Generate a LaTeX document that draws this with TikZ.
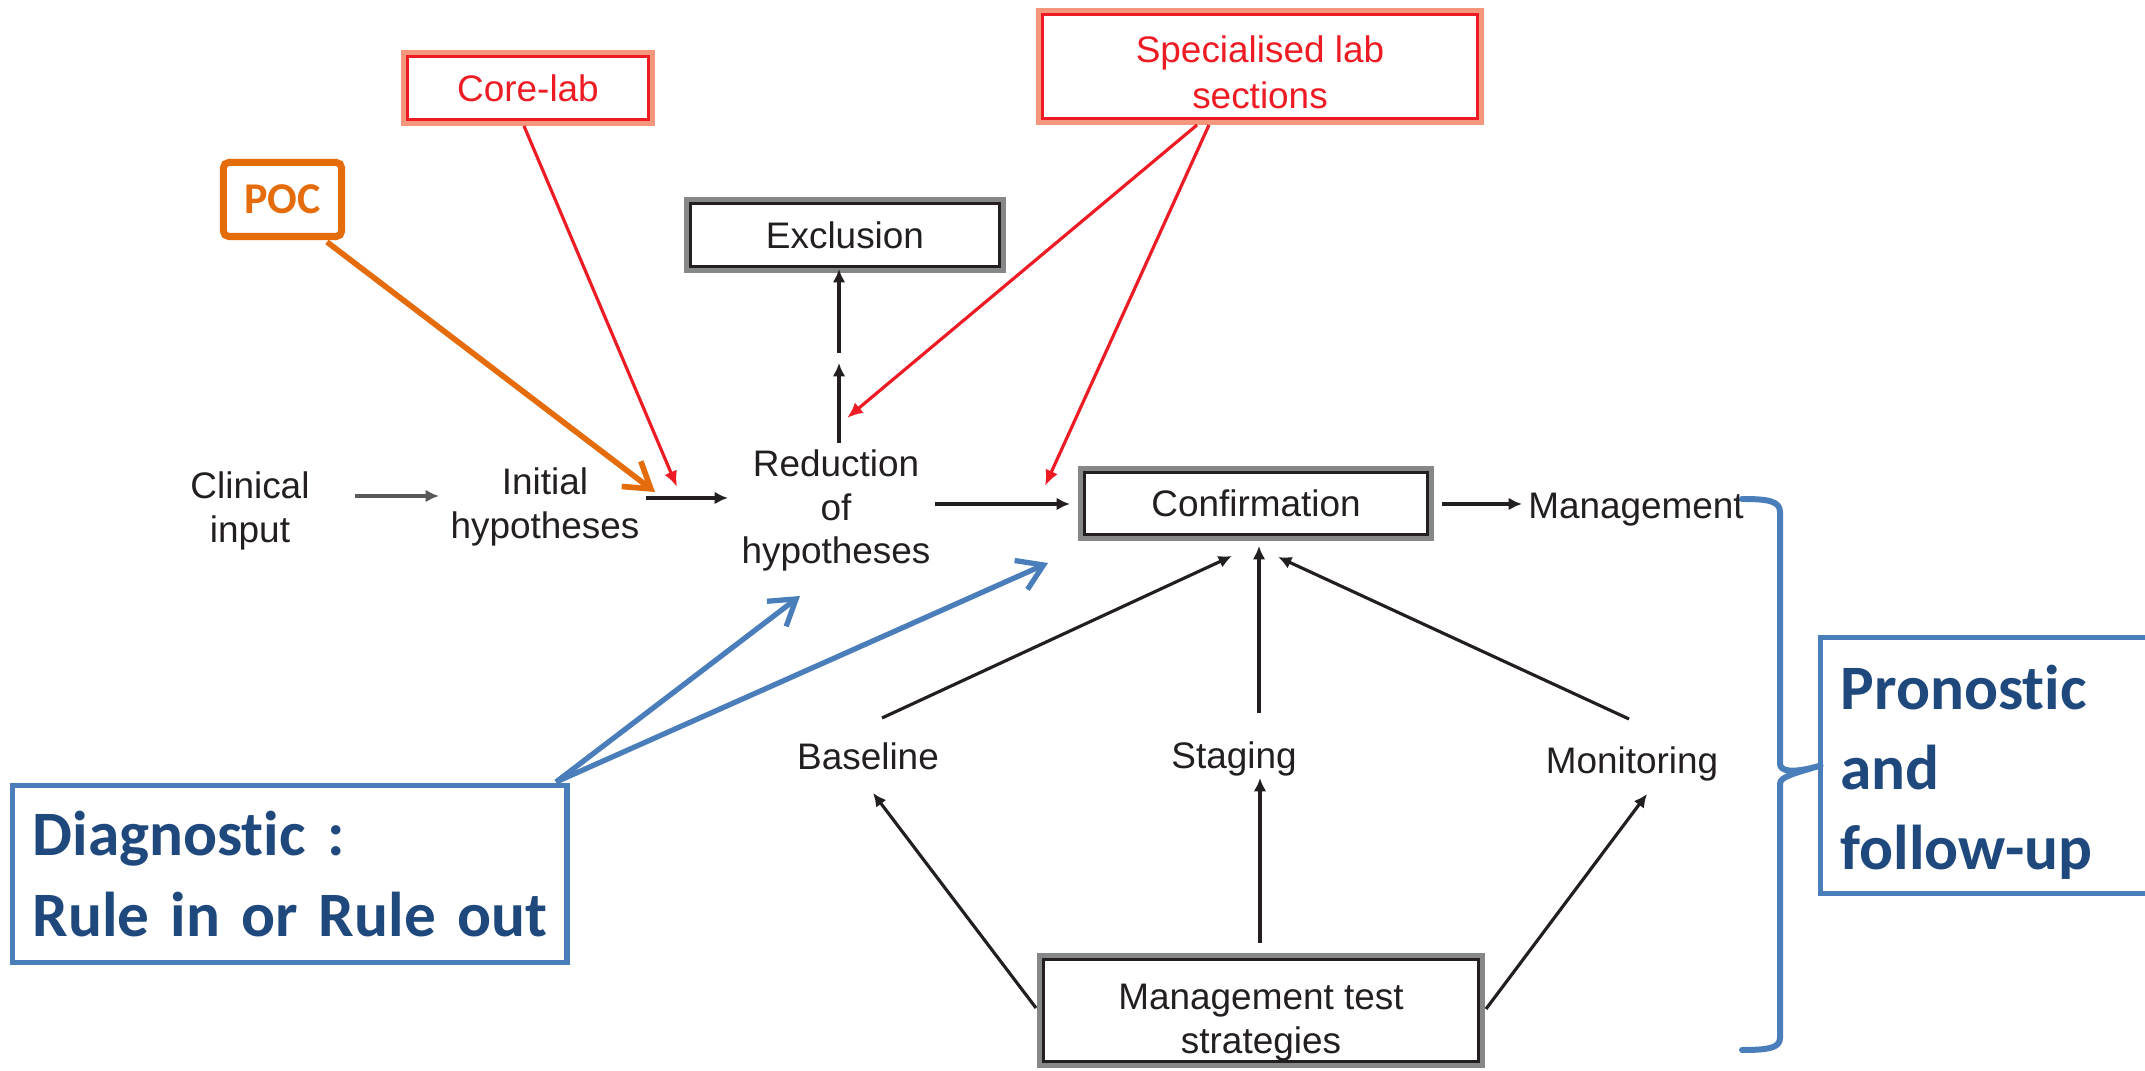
\documentclass[tikz,border=0pt]{standalone}
\usepackage{fontspec}
\setmainfont{Liberation Sans}
\newfontfamily\calfont{Carlito}[Ligatures=NoCommon]
\usetikzlibrary{arrows.meta}
\definecolor{ink}{HTML}{231F20}
\definecolor{arrgray}{HTML}{58595B}
\definecolor{boxgray}{HTML}{858789}
\definecolor{labred}{HTML}{ED1C24}
\definecolor{salmon}{HTML}{F4977C}
\definecolor{pocorange}{HTML}{E46C0A}
\definecolor{bblue}{HTML}{4A7EBB}
\definecolor{tblue}{HTML}{1F497D}
\tikzset{
  txt/.style={font=\fontsize{10.5}{12.5}\selectfont, text=ink, align=center, inner sep=0pt},
  gbox/.style={draw=boxgray, line width=2.4pt, outer sep=0pt, inner sep=0pt, align=center,
    text=ink, font=\fontsize{10.5}{12.5}\selectfont},
  rbox/.style={draw=salmon, line width=2.4pt, outer sep=0pt, inner sep=0pt, align=center,
    text=labred, font=\fontsize{10.5}{13}\selectfont},
  pocbox/.style={draw=pocorange, line width=2pt, rounded corners=1.5pt, outer sep=0pt, inner sep=0pt,
    text=pocorange, font=\calfont\bfseries\fontsize{12.5}{15}\selectfont},
  bluebox/.style={draw=bblue, line width=1.5pt, outer sep=0pt, inner xsep=0.2cm, inner ysep=0pt,
    align=left, text=tblue, font=\calfont\bfseries\fontsize{18}{22.8}\selectfont},
  blk/.style={draw=ink, line width=0.9pt, -{Latex[length=3.8pt,width=3.6pt]}},
  blkthick/.style={blk, line width=1.3pt},
  redarr/.style={draw=labred, line width=0.9pt, -{Latex[length=4.5pt,width=3.8pt]}},
  bluearr/.style={draw=bblue, line width=1.5pt, -{Straight Barb[length=7pt,width=9pt]}},
  orarr/.style={draw=pocorange, line width=1.6pt, -{Straight Barb[length=7pt,width=9pt]}},
  bracestyle/.style={draw=bblue, line width=1.7pt, line cap=round, line join=round}
}
\begin{document}
\begin{tikzpicture}[x=0.01cm, y=-0.01cm]
\useasboundingbox[fill=white] (0,0) rectangle (2145,1071);

% boxes
\node[rbox, minimum width=2.46cm, minimum height=0.68cm] (core) at (528,88) {Core-lab};
\node[rbox, minimum width=4.40cm, minimum height=1.09cm, text height=23.9pt] (spec) at (1260,66.5) {Specialised lab\\sections};
\node[pocbox, minimum width=1.18cm, minimum height=0.74cm] (poc) at (282.5,199.5) {POC};
\node[gbox, minimum width=3.14cm, minimum height=0.68cm] (excl) at (845,235) {Exclusion};
\node[gbox, minimum width=3.48cm, minimum height=0.67cm] (conf) at (1256,503.5) {Confirmation};
\node[gbox, minimum width=4.40cm, minimum height=1.07cm, text height=26.4pt] (mts) at (1261,1010.5) {Management test\\strategies};

% inner dark / red rules of the double borders
\foreach \n in {excl,conf,mts}
  \draw[ink, line width=0.8pt] ([shift={(0.8pt,-0.8pt)}]\n.north west) rectangle ([shift={(-0.8pt,0.8pt)}]\n.south east);
\foreach \n in {core,spec}
  \draw[labred, line width=0.8pt] ([shift={(0.8pt,-0.8pt)}]\n.north west) rectangle ([shift={(-0.8pt,0.8pt)}]\n.south east);

% plain text nodes
\node[txt] (clin) at (250,511) {Clinical\\input};
\node[txt] (init) at (545,507) {Initial\\hypotheses};
\node[txt] (redu) at (836,510.5) {Reduction\\of\\hypotheses};
\node[txt] (mgmt) at (1636,510) {Management};
\node[txt] (base) at (868,756.5) {Baseline};
\node[txt] (stag) at (1234,759) {Staging};
\node[txt] (moni) at (1632,764) {Monitoring};

% blue boxes
\node[bluebox, text width=5.14cm, minimum height=1.77cm, anchor=west] (diag) at (12.6,874)
  {Diagnostic~:\\Rule~in~or~Rule~out};
\node[bluebox, text width=3.07cm, minimum height=2.56cm, anchor=west, text depth=44.6pt] (pron) at (1820.6,765.5)
  {Pronostic\\and\\follow-up};

% free ends of connectors
\coordinate (a1s) at (355,496);  \coordinate (a1e) at (439,496);
\coordinate (a2s) at (646,498);  \coordinate (a2e) at (728,498);
\coordinate (a3s) at (935,504);  \coordinate (a3e) at (1070,504);
\coordinate (a4s) at (1442,504); \coordinate (a4e) at (1522,504);
\coordinate (r1s) at (839,443);  \coordinate (r1e) at (839,363);
\coordinate (r2s) at (839,353);
\coordinate (s1s) at (1259,713); \coordinate (s1e) at (1259,546);
\coordinate (b1s) at (882,718);  \coordinate (b1e) at (1232,556);
\coordinate (m1s) at (1629,719); \coordinate (m1e) at (1278,557);
\coordinate (s2s) at (1260,943); \coordinate (s2e) at (1260,778);
\coordinate (b2s) at (1036,1008); \coordinate (b2e) at (873,793);
\coordinate (m2s) at (1486,1009); \coordinate (m2e) at (1647,794);
\coordinate (coreS) at (524,126); \coordinate (coreE) at (677,487);
\coordinate (specS1) at (1197,125); \coordinate (specE1) at (847,418);
\coordinate (specS2) at (1209,125); \coordinate (specE2) at (1045,486);
\coordinate (pocS) at (327,242); \coordinate (pocE) at (655,492);
\coordinate (diagS) at (556,782); \coordinate (diagE1) at (800,596); \coordinate (diagE2) at (1048,563);

% black connectors
\draw[blkthick, draw=arrgray] (a1s) -- (a1e);
\draw[blkthick] (a2s) -- (a2e);
\draw[blkthick] (a3s) -- (a3e);
\draw[blkthick] (a4s) -- (a4e);
\draw[blk] (r1s) -- (r1e);
\draw[blk] (r2s) -- (r2s |- excl.south);
\draw[blk] (s1s) -- (s1e);
\draw[blk] (b1s) -- (b1e);
\draw[blk] (m1s) -- (m1e);
\draw[blk] (s2s) -- (s2e);
\draw[blk] (b2s) -- (b2e);
\draw[blk] (m2s) -- (m2e);

% red connectors
\draw[redarr] (coreS) -- (coreE);
\draw[redarr] (specS1) -- (specE1);
\draw[redarr] (specS2) -- (specE2);

% orange connector
\draw[orarr] (pocS) -- (pocE);

% blue connectors
\draw[bluearr] (diagS) -- (diagE1);
\draw[bluearr] (diagS) -- (diagE2);

% brace
\draw[bracestyle] (1742,499) .. controls (1768,499) and (1780,501) .. (1780,512)
  -- (1780,764) .. controls (1780,771) and (1792,774) .. (pron.west)
  .. controls (1792,774) and (1780,777) .. (1780,784)
  -- (1780,1038) .. controls (1780,1048) and (1768,1050) .. (1742,1050);
\end{tikzpicture}
\end{document}
